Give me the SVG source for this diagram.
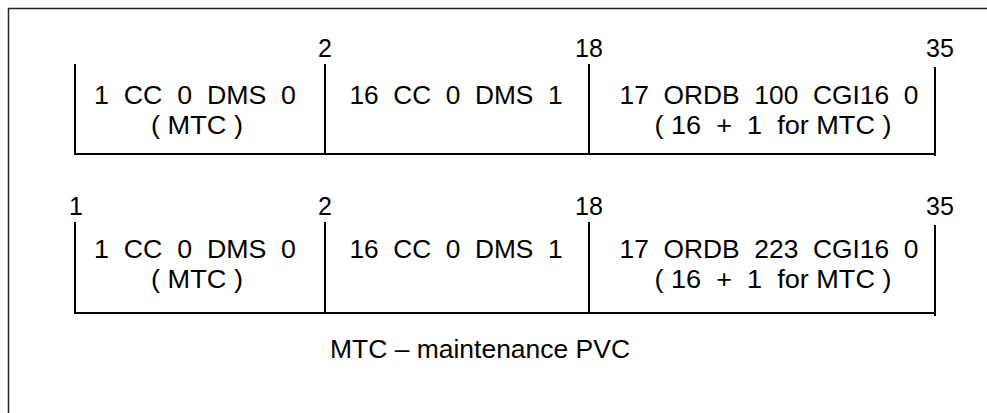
<svg xmlns="http://www.w3.org/2000/svg" width="987" height="413" viewBox="0 0 987 413">
<style>
.t{font-family:"Liberation Sans",Arial,sans-serif;font-size:25px;fill:#000;white-space:pre}
.m{text-anchor:middle}
.ln{stroke:#000;stroke-width:2;fill:none}
.fr{stroke:#222;stroke-width:1.5;fill:none}
</style>
<rect width="987" height="413" fill="#fff"/>
<path class="fr" d="M8.5,413 V8.5 H987"/>
<g id="connectors">
<path class="ln" d="M75,64 V154 H935 M325,64 V154 M589,64 V154 M935,67 V156"/>
<path class="ln" d="M75,222 V313 H935 M325,222 V313 M589,222 V313 M935,225 V316"/>
</g>
<g id="row1-labels">
<text class="t m" x="325" y="57">2</text>
<text class="t m" x="589" y="57">18</text>
<text class="t m" x="940" y="57">35</text>
</g>
<g id="row1-cell1">
<text class="t m" x="195" y="104" textLength="202" lengthAdjust="spacingAndGlyphs" xml:space="preserve">1  CC  0  DMS  0</text>
<text class="t m" x="197" y="134" textLength="92" lengthAdjust="spacingAndGlyphs" xml:space="preserve">( MTC )</text>
</g>
<g id="row1-cell2">
<text class="t m" x="456" y="104" textLength="213" lengthAdjust="spacingAndGlyphs" xml:space="preserve">16  CC  0  DMS  1</text>
</g>
<g id="row1-cell3">
<text class="t m" x="769" y="104" textLength="299" lengthAdjust="spacingAndGlyphs" xml:space="preserve">17  ORDB  100  CGI16  0</text>
<text class="t m" x="773" y="134" textLength="237" lengthAdjust="spacingAndGlyphs" xml:space="preserve">( 16  +  1  for MTC )</text>
</g>
<g id="row2-labels">
<text class="t m" x="76" y="215">1</text>
<text class="t m" x="325" y="215">2</text>
<text class="t m" x="589" y="215">18</text>
<text class="t m" x="940" y="215">35</text>
</g>
<g id="row2-cell1">
<text class="t m" x="195" y="258" textLength="202" lengthAdjust="spacingAndGlyphs" xml:space="preserve">1  CC  0  DMS  0</text>
<text class="t m" x="197" y="288" textLength="92" lengthAdjust="spacingAndGlyphs" xml:space="preserve">( MTC )</text>
</g>
<g id="row2-cell2">
<text class="t m" x="456" y="258" textLength="213" lengthAdjust="spacingAndGlyphs" xml:space="preserve">16  CC  0  DMS  1</text>
</g>
<g id="row2-cell3">
<text class="t m" x="769" y="258" textLength="299" lengthAdjust="spacingAndGlyphs" xml:space="preserve">17  ORDB  223  CGI16  0</text>
<text class="t m" x="773" y="288" textLength="237" lengthAdjust="spacingAndGlyphs" xml:space="preserve">( 16  +  1  for MTC )</text>
</g>
<g id="caption">
<text class="t m" x="480" y="358" textLength="300" lengthAdjust="spacingAndGlyphs">MTC – maintenance PVC</text>
</g>
</svg>
